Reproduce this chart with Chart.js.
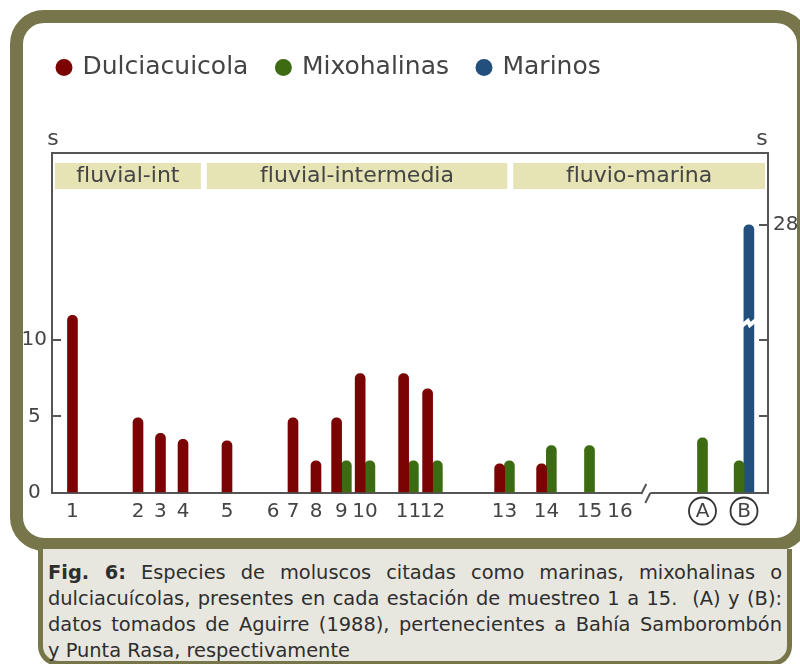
<!DOCTYPE html>
<html lang="es">
<head>
<meta charset="utf-8">
<title>Fig. 6</title>
<script src="https://cdn.jsdelivr.net/npm/chart.js@4.4.1/dist/chart.umd.min.js"></script>
<style>
  html, body { margin: 0; padding: 0; background: #fff; }
  body { width: 800px; height: 664px; overflow: hidden; position: relative; font-family: "DejaVu Sans", Verdana, sans-serif; }
  #marco { position: absolute; left: 10px; top: 10px; width: 800px; height: 541px; box-sizing: border-box;
           border: 13px solid #76764a; border-radius: 34px; background: #fff; }
  #grafico { position: absolute; left: 0; top: 0; }
  #leyenda { position: absolute; left: 38px; top: 549px; width: 754px; height: 117px; box-sizing: border-box;
             border: 5px solid #76764a; border-top: none; border-radius: 0 0 20px 20px; background: #e8e7df;
             padding: 11px 5px 0 5px; color: #2e2e2e; font-size: 19.4px; line-height: 26px; }
  #leyenda div { text-align: justify; text-align-last: justify; white-space: nowrap; }
  #leyenda div.ultima { text-align-last: left; }
</style>
</head>
<body>
<div id="marco"></div>
<canvas id="grafico" width="800" height="545"></canvas>
<div id="leyenda">
  <div><b>Fig. 6:</b> Especies de moluscos citadas como marinas, mixohalinas o</div>
  <div>dulciacuícolas, presentes en cada estación de muestreo 1 a 15.&nbsp; (A) y (B):</div>
  <div>datos tomados de Aguirre (1988), pertenecientes a Bahía Samborombón</div>
  <div class="ultima">y Punta Rasa, respectivamente</div>
</div>
<script>
// estaciones de muestreo y su ubicacion relativa a lo largo del transecto (0-100)
const estaciones = ['1', '2', '3', '4', '5', '6', '7', '8', '9', '10', '11', '12', '13', '14', '15', '16', 'A', 'B'];
const posicion = [2.86, 12.01, 15.15, 18.3, 24.44, 30.87, 33.66, 36.87, 40.43, 43.72, 49.79, 53.14, 63.2, 69.06, 75.07, 79.33, 90.85, 96.65];
// (A) y (B) son datos de Aguirre (1988), van con circulo
const deAguirre = ['A', 'B'];

// numero de especies por estacion
const dulciacuicolas = [11.6, 4.9, 3.9, 3.5, 3.4, null, 4.9, 2.1, 4.9, 7.8, 7.8, 6.8, 1.9, 1.9, null, null, null, null];
const mixohalinas = [null, null, null, null, null, null, null, null, 2.1, 2.1, 2.1, 2.1, 2.1, 3.1, 3.1, null, 3.6, 2.1];
const marinos = [null, null, null, null, null, null, null, null, null, null, null, null, null, null, null, null, null, 28];

const ticksIzq = [0, 5, 10];
const ticksDer = [5, 10, 28];

const zonas = ['fluvial-int', 'fluvial-intermedia', 'fluvio-marina'];
const zonaDesde = [0, 21.2, 64];
const zonaHasta = [21.2, 64, 100];

const corteEje = 83;       // corte del eje x entre 16 y (A)
const corteBarra = 12;     // desde aca el eje y se comprime
const factorCorte = 0.344; // compresion por encima del corte
const marcaCorte = 11.1;   // donde se dibuja el corte en la barra

const fuente = '"DejaVu Sans", Verdana, sans-serif';
const desp = 0.68;

// escala lineal con un tramo comprimido arriba del corte
class EscalaCortada extends Chart.LinearScale {
    comprimir(v) {
        return v > corteBarra ? corteBarra + (v - corteBarra) * factorCorte : v;
    }
    getPixelForValue(v, index) {
        return super.getPixelForValue(v === null ? v : this.comprimir(v), index);
    }
    // sin recorte de las etiquetas (el "10" sale un poco del recuadro del eje)
    _computeLabelArea() {
        return undefined;
    }
}
EscalaCortada.id = 'cortada';
EscalaCortada.defaults = Chart.LinearScale.defaults;
Chart.register(EscalaCortada);

function barras(valores, corrimiento) {
    let puntos = [];
    valores.forEach(function(v, i) {
        if (v === null) return;
        puntos.push({ x: posicion[i] + corrimiento(i), y: v });
    });
    return puntos;
}

let datosRojo = barras(dulciacuicolas, i => mixohalinas[i] !== null ? -desp : 0);
let datosVerde = barras(mixohalinas, i => dulciacuicolas[i] !== null ? desp : (marinos[i] !== null ? -desp : 0));
let datosAzul = barras(marinos, i => mixohalinas[i] !== null ? desp : 0);

const decorado = {
    id: 'decorado',
    beforeDatasetsDraw(chart) {
        const { ctx, chartArea: a, scales: { x } } = chart;
        ctx.save();
        zonas.forEach(function(z, i) {
            let x1 = x.getPixelForValue(zonaDesde[i]) + 3;
            let x2 = x.getPixelForValue(zonaHasta[i]) - 3;
            ctx.fillStyle = '#e6e4b5';
            ctx.fillRect(x1, a.top + 10, x2 - x1, 26);
            ctx.fillStyle = '#444';
            ctx.font = '22px ' + fuente;
            ctx.textAlign = 'center';
            ctx.textBaseline = 'middle';
            ctx.fillText(z, (x1 + x2) / 2, a.top + 23);
        });
        // borde superior del recuadro
        ctx.strokeStyle = '#555';
        ctx.lineWidth = 2;
        ctx.beginPath();
        ctx.moveTo(a.left, a.top);
        ctx.lineTo(a.right, a.top);
        ctx.stroke();
        // "s" de ambos ejes
        ctx.fillStyle = '#444';
        ctx.font = '22px ' + fuente;
        ctx.textAlign = 'center';
        ctx.textBaseline = 'alphabetic';
        ctx.fillText('s', a.left + 1, a.top - 8);
        ctx.fillText('s', a.right - 6, a.top - 8);
        ctx.restore();
    },
    afterDraw(chart) {
        const { ctx, chartArea: a, scales: { x, y } } = chart;
        ctx.save();
        // corte del eje x
        let px = x.getPixelForValue(corteEje);
        ctx.fillStyle = '#fff';
        ctx.fillRect(px - 4, a.bottom - 3, 8, 6);
        ctx.strokeStyle = '#555';
        ctx.lineWidth = 2;
        ctx.beginPath();
        ctx.moveTo(px - 5, a.bottom + 1);
        ctx.lineTo(px, a.bottom - 9);
        ctx.moveTo(px - 1, a.bottom + 10);
        ctx.lineTo(px + 4, a.bottom);
        ctx.stroke();
        // circulos de (A) y (B)
        x.ticks.forEach(function(t, i) {
            if (deAguirre.indexOf(estaciones[i]) < 0) return;
            ctx.strokeStyle = '#333';
            ctx.lineWidth = 1.8;
            ctx.beginPath();
            ctx.arc(x.getPixelForTick(i), a.bottom + 18, 13.5, 0, Math.PI * 2);
            ctx.stroke();
        });
        // corte de la barra de marinos
        let meta = chart.getDatasetMeta(2);
        let py = y.getPixelForValue(marcaCorte);
        meta.data.forEach(function(bar) {
            let w = bar.width / 2 + 2;
            ctx.strokeStyle = '#fff';
            ctx.lineWidth = 4;
            ctx.beginPath();
            ctx.moveTo(bar.x - w, py + 3);
            ctx.lineTo(bar.x - 1, py - 2);
            ctx.lineTo(bar.x + 1, py + 2);
            ctx.lineTo(bar.x + w, py - 3);
            ctx.stroke();
        });
        ctx.restore();
    }
};

let barra = { borderWidth: 0, borderRadius: 5, borderSkipped: 'start', grouped: false, barThickness: 10, maxBarThickness: 10 };

new Chart(document.getElementById('grafico').getContext('2d'), {
    type: 'bar',
    data: {
        datasets: [
            Object.assign({ label: 'Dulciacuicola', data: datosRojo, backgroundColor: '#7b0303' }, barra),
            Object.assign({ label: 'Mixohalinas', data: datosVerde, backgroundColor: '#3d6b12' }, barra),
            Object.assign({ label: 'Marinos', data: datosAzul, backgroundColor: '#234f7c' }, barra)
        ]
    },
    options: {
        responsive: false,
        animation: false,
        events: [],
        layout: { padding: { left: 29, top: 26, right: 0, bottom: 12 } },
        plugins: {
            tooltip: { enabled: false },
            legend: {
                position: 'top',
                align: 'start',
                labels: {
                    usePointStyle: true, pointStyle: 'circle',
                    boxWidth: 12, boxHeight: 12, padding: 29,
                    color: '#444', font: { family: fuente, size: 25 }
                }
            },
            title: { display: true, text: '', weight: 100, padding: { top: 51, bottom: 0 }, font: { size: 10 } }
        },
        scales: {
            x: {
                type: 'linear', min: 0, max: 100, offset: false,
                afterBuildTicks: s => { s.ticks = posicion.map(v => ({ value: v })); },
                afterFit: s => { s.height = 40; },
                grid: { display: false, drawTicks: false, offset: false },
                border: { color: '#555', width: 2 },
                ticks: {
                    autoSkip: false, maxRotation: 0, minRotation: 0, padding: 7, color: '#444',
                    callback: (v, i) => estaciones[i],
                    font: { family: fuente, size: 20 }
                }
            },
            y: {
                type: 'cortada', position: 'left', min: 0, max: 22.2,
                afterBuildTicks: s => { s.ticks = ticksIzq.map(v => ({ value: v })); },
                afterFit: s => { s.width = 23; },
                grid: { drawOnChartArea: false, tickLength: -9, color: '#555', lineWidth: 2 },
                border: { color: '#555', width: 2 },
                ticks: { color: '#444', padding: 14, crossAlign: 'center', font: { family: fuente, size: 20 } }
            },
            y2: {
                type: 'cortada', position: 'right', min: 0, max: 22.2,
                afterBuildTicks: s => { s.ticks = ticksDer.map(v => ({ value: v })); },
                afterFit: s => { s.width = 32; },
                grid: { drawOnChartArea: false, tickLength: -9, color: '#555', lineWidth: 2 },
                border: { color: '#555', width: 2 },
                ticks: {
                    color: '#444', padding: 14, font: { family: fuente, size: 20 },
                    callback: v => v === 28 ? '28' : ''
                }
            }
        }
    },
    plugins: [decorado]
});
</script>
</body>
</html>
